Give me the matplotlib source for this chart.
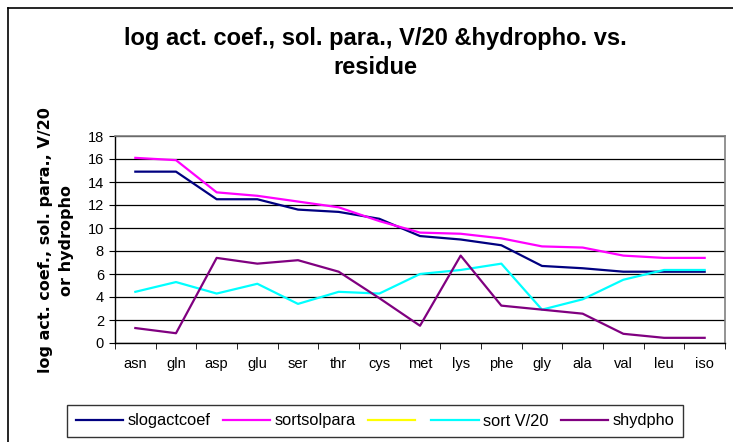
import matplotlib.pyplot as plt
from matplotlib.lines import Line2D
import numpy as np

residues = ['asn', 'gln', 'asp', 'glu', 'ser', 'thr', 'cys', 'met',
            'lys', 'phe', 'gly', 'ala', 'val', 'leu', 'iso']
slogactcoef = [14.9, 14.9, 12.5, 12.5, 11.6, 11.4, 10.8, 9.3, 9.0, 8.5, 6.7, 6.5, 6.2, 6.2, 6.2]
sortsolpara = [16.1, 15.9, 13.1, 12.8, 12.3, 11.8, 10.6, 9.6, 9.5, 9.1, 8.4, 8.3, 7.6, 7.4, 7.4]
sort_v20 = [4.45, 5.3, 4.3, 5.15, 3.4, 4.45, 4.3, 6.0, 6.35, 6.9, 2.9, 3.8, 5.5, 6.35, 6.35]
shydpho = [1.3, 0.85, 7.4, 6.9, 7.2, 6.2, 3.9, 1.5, 7.6, 3.25, 2.9, 2.55, 0.8, 0.45, 0.45]
empty_series = []  # yellow series shows up in the legend only

plt.rcParams['font.family'] = ['Liberation Sans', 'DejaVu Sans']

fig = plt.figure(figsize=(7.33, 4.42), dpi=100)
ax = fig.add_axes([115/733, 1-343/442, 610/733, 207/442])

x = np.arange(len(residues))
lw = 1.6
h1, = ax.plot(x, slogactcoef, color='#000080', lw=lw)
h2, = ax.plot(x, sortsolpara, color='#FF00FF', lw=lw)
h3, = ax.plot(empty_series, empty_series, color='#FFFF00', lw=lw)
h4, = ax.plot(x, sort_v20, color='#00FFFF', lw=lw)
h5, = ax.plot(x, shydpho, color='#800080', lw=lw)

ax.set_xlim(-0.5, len(residues) - 0.5)
ax.set_ylim(0, 18)
ax.set_yticks(range(0, 19, 2))
ax.yaxis.grid(True, color='black', lw=0.9)
ax.set_axisbelow(True)
ax.set_xticks(x)
ax.set_xticklabels(residues, fontsize=10.5)
ax.set_xticks(np.arange(-0.5, len(residues), 1), minor=True)
ax.tick_params(axis='x', which='major', length=0, pad=10)
ax.tick_params(axis='x', which='minor', length=4, direction='out', color='black')
ax.tick_params(axis='y', length=4, direction='out', labelsize=10.5, pad=4)
for s in ['top', 'right']:
    ax.spines[s].set_color('#808080')
    ax.spines[s].set_linewidth(1.2)
for s in ['left', 'bottom']:
    ax.spines[s].set_color('black')
    ax.spines[s].set_linewidth(1.0)

fig.text(56/733, 1-240/442, 'log act. coef., sol. para., V/20\nor hydropho',
         rotation=90, ha='center', va='center', multialignment='center',
         fontsize=11.5, fontweight='bold', linespacing=1.5, family='DejaVu Sans')

fig.text(375/733, 1-38/442, 'log act. coef., sol. para., V/20 &hydropho. vs.',
         ha='center', va='center', fontsize=17, fontweight='bold')
fig.text(375/733, 1-68/442, 'residue', ha='center', va='center',
         fontsize=17, fontweight='bold')

leg = fig.legend([h1, h2, h3, h4, h5],
                 ['slogactcoef', 'sortsolpara', '', 'sort V/20', 'shydpho'],
                 loc='center', bbox_to_anchor=(375/733, 1-421/442), ncol=5,
                 frameon=True, fancybox=False, edgecolor='black',
                 fontsize=11.8, handlelength=2.9, columnspacing=0.75,
                 handletextpad=0.25, borderpad=0.5)
leg.get_frame().set_linewidth(1.0)

# outer chart border (only top and left edges visible in the crop)
fig.add_artist(Line2D([8/733, 1], [1-8/442, 1-8/442], transform=fig.transFigure,
                      color='black', lw=1.2))
fig.add_artist(Line2D([8/733, 8/733], [0, 1-8/442], transform=fig.transFigure,
                      color='black', lw=1.2))

fig.savefig('out.png', dpi=100)
